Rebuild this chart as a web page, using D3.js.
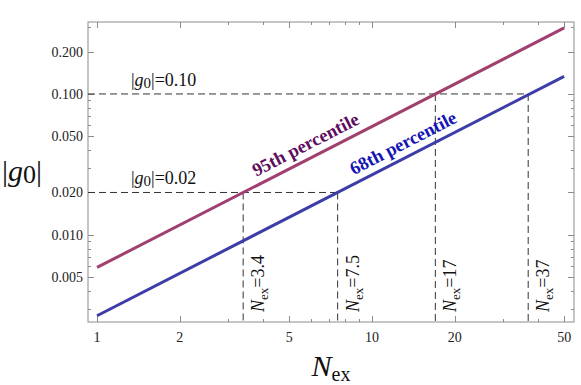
<!DOCTYPE html>
<html>
<head>
<meta charset="utf-8">
<script src="https://cdn.jsdelivr.net/npm/d3@7"></script>
<style>
  body { margin: 0; background: #fff; }
</style>
</head>
<body>
<div id="chart"></div>
<script>
// data
const nex = [1, 50]
const p95 = [0.00588, 0.294]
const p68 = [0.00267, 0.1333]
const xTicks = [1, 2, 5, 10, 20, 50]
const xTickLabels = ['1', '2', '5', '10', '20', '50']
const yTicks = [0.005, 0.01, 0.02, 0.05, 0.1, 0.2]
const yTickLabels = ['0.005', '0.010', '0.020', '0.050', '0.100', '0.200']
const levels = [0.02, 0.10]
const levelLabels = ['0.02', '0.10']
const crossings = [3.4, 7.5, 17, 37]
const crossLevel = [0.02, 0.02, 0.10, 0.10]
const crossLabels = ['3.4', '7.5', '17', '37']

const w = 581, h = 385
const margin = { left: 88, right: 7, top: 22, bottom: 63 }
const serif = "'Liberation Serif', Tinos, 'Times New Roman', Times, serif"

let svg = d3.select('#chart')
  .append('svg')
  .attr('width', w)
  .attr('height', h)
  .style('font-family', serif)
  .attr('font-family', serif)

let x = d3.scaleLog()
  .domain([0.927, 54.3])
  .range([margin.left, w - margin.right])

let y = d3.scaleLog()
  .domain([0.00241, 0.324])
  .range([h - margin.bottom, margin.top])

const [x0, x1] = x.range()
const [y0, y1] = y.range()

// frame
svg.append('rect')
  .attr('x', x0).attr('y', y1)
  .attr('width', x1 - x0).attr('height', y0 - y1)
  .attr('fill', 'none')
  .attr('stroke', '#8c8c8c')
  .attr('stroke-width', 1)

// ticks on all four sides, pointing inward
let ticks = svg.append('g').attr('stroke', '#8c8c8c').attr('stroke-width', 1)
x.ticks().forEach(t => {
  let len = xTicks.includes(t) ? 6 : 3
  let px = Math.round(x(t)) + 0.5
  ticks.append('line').attr('x1', px).attr('x2', px).attr('y1', y0).attr('y2', y0 - len)
  ticks.append('line').attr('x1', px).attr('x2', px).attr('y1', y1).attr('y2', y1 + len)
})
y.ticks().forEach(t => {
  let len = yTicks.some(v => Math.abs(v - t) < 1e-9) ? 6 : 3
  let py = Math.round(y(t)) + 0.5
  ticks.append('line').attr('y1', py).attr('y2', py).attr('x1', x0).attr('x2', x0 + len)
  ticks.append('line').attr('y1', py).attr('y2', py).attr('x1', x1).attr('x2', x1 - len)
})

// tick labels
svg.selectAll('.xlabel')
  .data(xTicks)
  .enter()
  .append('text')
  .attr('class', 'xlabel')
  .attr('x', d => x(d))
  .attr('y', y0 + 20)
  .attr('text-anchor', 'middle')
  .attr('font-size', 14)
  .attr('fill', '#222')
  .text((d, i) => xTickLabels[i])

svg.selectAll('.ylabel')
  .data(yTicks)
  .enter()
  .append('text')
  .attr('class', 'ylabel')
  .attr('x', x0 - 5)
  .attr('y', d => y(d) + 5)
  .attr('text-anchor', 'end')
  .attr('font-size', 14)
  .attr('fill', '#222')
  .text((d, i) => yTickLabels[i])

// dashed guides
let guides = svg.append('g')
  .attr('stroke', '#333')
  .attr('stroke-width', 1)
  .attr('stroke-dasharray', '7,4')
  .attr('fill', 'none')

levels.forEach(lv => {
  let xmax = d3.max(crossings.filter((c, i) => crossLevel[i] === lv))
  guides.append('line')
    .attr('x1', x0).attr('x2', x(xmax))
    .attr('y1', y(lv)).attr('y2', y(lv))
})
crossings.forEach((c, i) => {
  guides.append('line')
    .attr('x1', x(c)).attr('x2', x(c))
    .attr('y1', y(crossLevel[i])).attr('y2', y0)
})

// percentile lines
let line = d3.line()
  .x(d => x(d[0]))
  .y(d => y(d[1]))

svg.append('path')
  .datum(d3.zip(nex, p95))
  .attr('d', line)
  .attr('fill', 'none')
  .attr('stroke', '#a0406f')
  .attr('stroke-width', 3)

svg.append('path')
  .datum(d3.zip(nex, p68))
  .attr('d', line)
  .attr('fill', 'none')
  .attr('stroke', '#3d3da8')
  .attr('stroke-width', 3)

// labels along the lines
function lineLabel(series, at, txt, color) {
  let ax = x(nex[0]), bx = x(nex[1])
  let ay = y(series[0]), by = y(series[1])
  let ang = Math.atan2(by - ay, bx - ax)
  let t = (x(at) - ax) / (bx - ax)
  let px = ax + t * (bx - ax) + 8 * Math.sin(ang)
  let py = ay + t * (by - ay) - 8 * Math.cos(ang)
  svg.append('text')
    .attr('transform', `translate(${px},${py}) rotate(${ang * 180 / Math.PI})`)
    .attr('text-anchor', 'middle')
    .attr('font-size', 18.5)
    .attr('font-weight', 'bold')
    .attr('fill', color)
    .text(txt)
}
lineLabel(p95, 6.05, '95th percentile', '#5e0e5e')
lineLabel(p68, 13.7, '68th percentile', '#1515b5')

// |g0| = level labels
levels.forEach((lv, i) => {
  let t = svg.append('text')
    .attr('x', 131)
    .attr('y', y(lv) - 8)
    .attr('font-size', 18)
    .attr('fill', '#111')
  t.append('tspan').text('|')
  t.append('tspan').attr('font-style', 'italic').text('g')
  t.append('tspan').attr('font-size', 15).attr('dy', 2).text('0')
  t.append('tspan').attr('dy', -2).text('|=' + levelLabels[i])
})

// N_ex = crossing labels
crossings.forEach((c, i) => {
  let t = svg.append('text')
    .attr('transform', `translate(${x(c) + 21},${y0 - 10}) rotate(-90)`)
    .attr('font-size', 18)
    .attr('fill', '#111')
  t.append('tspan').attr('font-style', 'italic').text('N')
  t.append('tspan').attr('font-size', 13).attr('dy', 4).text('ex')
  t.append('tspan').attr('dy', -4).text('=' + crossLabels[i])
})

// axis titles
let yt = svg.append('text')
  .attr('x', 2)
  .attr('y', 181)
  .attr('font-size', 30)
  .attr('fill', '#111')
yt.append('tspan').text('|')
yt.append('tspan').attr('font-style', 'italic').text('g')
yt.append('tspan').attr('font-size', 26).attr('dy', 2).text('0')
yt.append('tspan').attr('dy', -2).text('|')

let xt = svg.append('text')
  .attr('x', 331)
  .attr('y', 376)
  .attr('text-anchor', 'middle')
  .attr('font-size', 30)
  .attr('fill', '#111')
xt.append('tspan').attr('font-style', 'italic').text('N')
xt.append('tspan').attr('font-size', 20).attr('dy', 5).text('ex')
</script>
</body>
</html>
